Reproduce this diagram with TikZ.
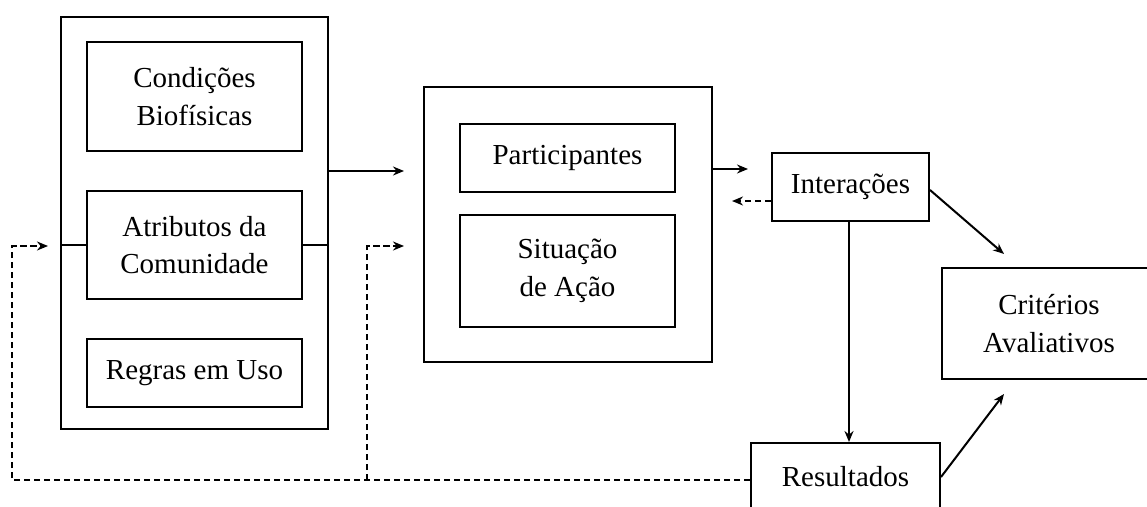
\documentclass[tikz,border=0pt]{standalone}
\usepackage{fontspec}
\setmainfont{Liberation Serif}
\usetikzlibrary{arrows.meta}
\begin{document}
\begin{tikzpicture}[x=1pt,y=-1pt,
  box/.style={draw,line width=2pt,inner sep=0pt,align=center,font=\fontsize{29}{37.5}\selectfont},
  conn/.style={line width=2pt},
  arr/.style={line width=2pt,-{Stealth[length=11pt,width=9pt]}},
  dsh/.style={line width=2pt,dash pattern=on 6.5pt off 3.5pt,-{Stealth[length=11pt,width=9pt]}}]
\useasboundingbox (0,0) rectangle (1147,506);
\fill[white] (0,0) rectangle (1147,506);
\clip (0,0) rectangle (1147,506);
% left group
\node[box,minimum width=267pt,minimum height=412pt] (outerL) at (194.5,223) {};
\node[box,minimum width=215pt,minimum height=109pt] (cond) at (194.5,96.5) {Condições\\Biofísicas};
\node[box,minimum width=215pt,minimum height=108pt] (atrib) at (194.5,245) {Atributos da\\Comunidade};
\node[box,minimum width=215pt,minimum height=68pt] (regras) at (194.5,373) {Regras em Uso};
% middle group
\node[box,minimum width=288pt,minimum height=275pt] (outerM) at (568,224.5) {};
\node[box,minimum width=215pt,minimum height=68pt] (part) at (567.5,158) {Participantes};
\node[box,minimum width=215pt,minimum height=112pt] (sit) at (567.5,271) {Situação\\de Ação};
% right
\node[box,minimum width=157pt,minimum height=68pt] (inter) at (850.5,187) {Interações};
\node[box,minimum width=214pt,minimum height=111pt] (crit) at (1049,323.5) {Critérios\\Avaliativos};
\node[box,minimum width=189pt,minimum height=68pt] (res) at (845.5,477) {Resultados};
% coordinates
\coordinate (tipM1) at (404,171);
\coordinate (tipM2) at (404,246);
\coordinate (tipL) at (48,246);
\coordinate (cornerL) at (12,480);
\coordinate (branch) at (367,480);
\coordinate (tipI) at (748,169);
\coordinate (tipBack) at (732,201);
\coordinate (downX) at (849,0);
\coordinate (downTip) at (849,442);
\coordinate (interR) at (929,190);
\coordinate (critTop) at (1004,254);
\coordinate (critBot) at (1004,394);
% connectors
\draw[conn] (atrib.west) -- (outerL.west |- atrib.west);
\draw[conn] (atrib.east) -- (outerL.east |- atrib.east);
\draw[arr] (outerL.east |- tipM1) -- (tipM1);
\draw[arr] (outerM.east |- tipI) -- (tipI);
\draw[dsh] (inter.west |- tipBack) -- (tipBack);
\draw[dsh] (res.west |- cornerL) -- (cornerL) -- (cornerL |- tipL) -- (tipL);
\draw[dsh] (branch) -- (branch |- tipM2) -- (tipM2);
\draw[arr] (inter.south -| downX) -- (downTip);
\draw[arr] (inter.east |- interR) -- (critTop);
\draw[arr] (res.east) -- (critBot);
\end{tikzpicture}
\end{document}
